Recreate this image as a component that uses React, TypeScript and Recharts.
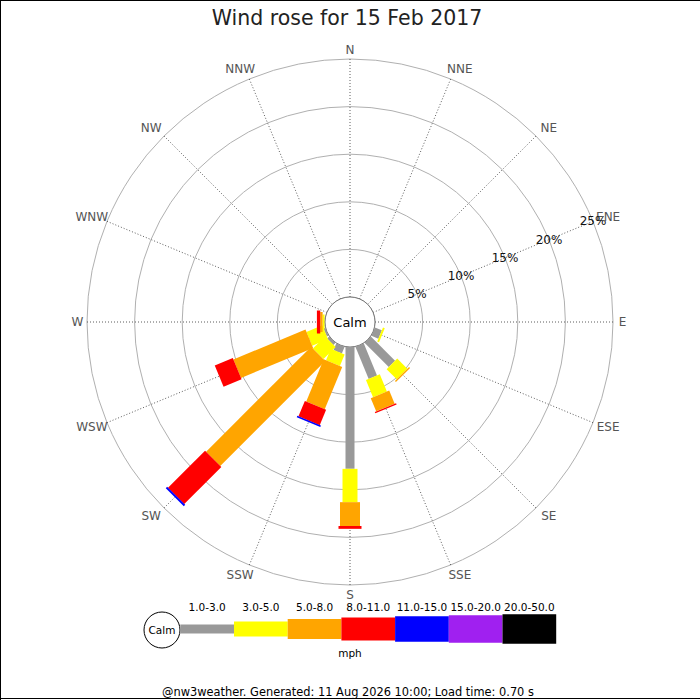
import React from 'react';
import { RadialBarChart, RadialBar, PolarAngleAxis, PolarRadiusAxis, PolarGrid } from 'recharts';

// ---- data ----
const directions = ['N', 'NNE', 'NE', 'ENE', 'E', 'ESE', 'SE', 'SSE', 'S', 'SSW', 'SW', 'WSW', 'W', 'WNW', 'NW', 'NNW'];
const directionDegrees = [0, 22.5, 45, 67.5, 90, 112.5, 135, 157.5, 180, 202.5, 225, 247.5, 270, 292.5, 315, 337.5];
const speed1to3 = [0, 0, 0, 0, 0, 0.8, 3.6, 3.65, 12.8, 0.75, 0.3, 0.2, 0.05, 0, 0, 0];
const speed3to5 = [0, 0, 0, 0, 0, 0.2, 1.5, 1.95, 3.5, 1.3, 1.8, 1.8, 0.2, 0, 0, 0];
const speed5to8 = [0, 0, 0, 0, 0, 0, 0.15, 1.5, 2.5, 4.8, 15.6, 8.2, 0.25, 0, 0, 0];
const speed8to11 = [0, 0, 0, 0, 0, 0, 0, 0.15, 0.3, 1.75, 5.5, 2.05, 0.35, 0, 0, 0];
const speed11to15 = [0, 0, 0, 0, 0, 0, 0, 0, 0, 0.15, 0.2, 0, 0, 0, 0, 0];
const speed15to20 = [0, 0, 0, 0, 0, 0, 0, 0, 0, 0, 0, 0, 0, 0, 0, 0];
const speed20to50 = [0, 0, 0, 0, 0, 0, 0, 0, 0, 0, 0, 0, 0, 0, 0, 0];
const binLabels = ['1.0-3.0', '3.0-5.0', '5.0-8.0', '8.0-11.0', '11.0-15.0', '15.0-20.0', '20.0-50.0'];
const ringTicks = [0, 5, 10, 15, 20, 25];

// ---- styles ----
const binColors = ['#999999', '#ffff00', '#ffa500', '#ff0000', '#0000ff', '#a020f0', '#000000'];
const binWidths = [9, 15, 20, 23, 25.5, 27.5, 29.5];
const FONT = '"DejaVu Sans", Verdana, sans-serif';
const CX = 350;
const CY = 322;
const INNER = 25;
const OUTER = 263;

const seriesValues = [speed1to3, speed3to5, speed5to8, speed8to11, speed11to15, speed15to20, speed20to50];
const seriesKeys = seriesValues.map((_, k) => 'bin' + k);
const chartData = directions.map((dir, i) => {
  const row: Record<string, number | string> = { dir, deg: directionDegrees[i] };
  seriesValues.forEach((s, k) => {
    row[seriesKeys[k]] = s[i];
  });
  return row;
});

const RAD = Math.PI / 180;

function windBar(width: number, color: string) {
  return (props: any) => {
    const { cx, cy, innerRadius, outerRadius, startAngle, endAngle } = props;
    if (!(outerRadius - innerRadius > 0.05)) return <g />;
    const mid = ((startAngle + endAngle) / 2) * RAD;
    const ux = Math.cos(mid);
    const uy = -Math.sin(mid);
    const nx = -uy;
    const ny = ux;
    const h = width / 2;
    const pts = [
      [cx + ux * innerRadius + nx * h, cy + uy * innerRadius + ny * h],
      [cx + ux * outerRadius + nx * h, cy + uy * outerRadius + ny * h],
      [cx + ux * outerRadius - nx * h, cy + uy * outerRadius - ny * h],
      [cx + ux * innerRadius - nx * h, cy + uy * innerRadius - ny * h],
    ];
    return <polygon points={pts.map((p) => p.join(',')).join(' ')} fill={color} />;
  };
}

const dirName = (v: number) => {
  const i = directionDegrees.indexOf(v);
  return i >= 0 ? directions[i] : String(v);
};

const DirTick = (props: any) => {
  const { x, y, payload } = props;
  const cx = props.cx ?? CX;
  const cy = props.cy ?? CY;
  const dx = x - cx;
  const dy = y - cy;
  const len = Math.hypot(dx, dy) || 1;
  const ux = dx / len;
  const uy = dy / len;
  const cardinal = Math.abs(ux) < 0.05 || Math.abs(uy) < 0.05;
  const r = cardinal ? 272.5 : 274;
  const shift = cardinal ? 0 : 5 * Math.sign(ux);
  return (
    <text
      x={cx + ux * r + shift}
      y={cy + uy * r}
      textAnchor="middle"
      dominantBaseline="central"
      fontSize={12}
      fontFamily={FONT}
      fill="#555"
    >
      {dirName(payload.value)}
    </text>
  );
};

const RingTick = (props: any) => {
  const { x, y, payload } = props;
  if (!payload || payload.value === 0) return <g />;
  return (
    <text x={x} y={y} textAnchor="middle" dominantBaseline="central" fontSize={12} fontFamily={FONT} fill="#111">
      {payload.value + '%'}
    </text>
  );
};

const LEG_X = 180.3;
const LEG_SEG = 53.7;
const LEG_CY = 629;

const LegendBlock = () => (
  <g>
    <circle cx={162} cy={630} r={18} fill="#fff" stroke="#000" strokeWidth={1} />
    <text x={162} y={630} textAnchor="middle" dominantBaseline="central" fontSize={10.5} fontFamily={FONT} fill="#000">
      Calm
    </text>
    {binLabels.map((lab, k) => (
      <g key={lab}>
        <rect
          x={LEG_X + k * LEG_SEG}
          y={LEG_CY - binWidths[k] / 2}
          width={LEG_SEG}
          height={binWidths[k]}
          fill={binColors[k]}
        />
        <text
          x={LEG_X + k * LEG_SEG + LEG_SEG / 2}
          y={610.5}
          textAnchor="middle"
          fontSize={10.5}
          fontFamily={FONT}
          fill="#000"
        >
          {lab}
        </text>
      </g>
    ))}
    <text x={350} y={657} textAnchor="middle" fontSize={10.5} fontFamily={FONT} fill="#000">
      mph
    </text>
  </g>
);

export default function App() {
  return (
    <div style={{ position: 'absolute', left: 0, top: 0, width: 700, height: 700, background: '#fff' }}>
      <RadialBarChart
        width={700}
        height={700}
        data={chartData}
        cx={CX}
        cy={CY}
        innerRadius={INNER}
        outerRadius={OUTER}
        startAngle={90}
        endAngle={-270}
        layout="centric"
        margin={{ top: 0, right: 0, bottom: 0, left: 0 }}
        barCategoryGap="10%"
      >
        <PolarGrid gridType="circle" radialLines={false} stroke="#b0b0b0" strokeWidth={1} />
        <PolarGrid gridType="circle" polarRadius={[]} stroke="#333" strokeWidth={0.8} strokeDasharray="1 2" />
        <PolarAngleAxis
          type="number"
          dataKey="deg"
          domain={[0, 360]}
          ticks={directionDegrees}
          axisLine={false}
          tickLine={false}
          tickSize={10}
          tick={<DirTick />}
        />
        <PolarRadiusAxis
          type="number"
          domain={[0, 25]}
          ticks={ringTicks}
          angle={22.5}
          axisLine={false}
          tickLine={false}
          orientation="middle"
          tick={<RingTick />}
        />
        {seriesKeys.map((key, k) => (
          <RadialBar
            key={key}
            dataKey={key}
            stackId="wind"
            fill={binColors[k]}
            isAnimationActive={false}
            shape={windBar(binWidths[k], binColors[k])}
          />
        ))}
        <circle cx={CX} cy={CY} r={INNER} fill="#fff" stroke="#777" strokeWidth={1} />
        <text x={CX} y={CY} textAnchor="middle" dominantBaseline="central" fontSize={13} fontFamily={FONT} fill="#000">
          Calm
        </text>
        <text x={347} y={25} textAnchor="middle" fontSize={20.5} fontFamily={FONT} fill="#222">
          Wind rose for 15 Feb 2017
        </text>
        <LegendBlock />
        <text x={348} y={696} textAnchor="middle" fontSize={11.4} fontFamily={FONT} fill="#000">
          @nw3weather. Generated: 11 Aug 2026 10:00; Load time: 0.70 s
        </text>
        <line x1={0} y1={0.5} x2={700} y2={0.5} stroke="#000" strokeWidth={1} />
        <line x1={0.5} y1={0} x2={0.5} y2={700} stroke="#000" strokeWidth={1} />
        <line x1={0} y1={698.5} x2={700} y2={698.5} stroke="#000" strokeWidth={1} />
      </RadialBarChart>
    </div>
  );
}
